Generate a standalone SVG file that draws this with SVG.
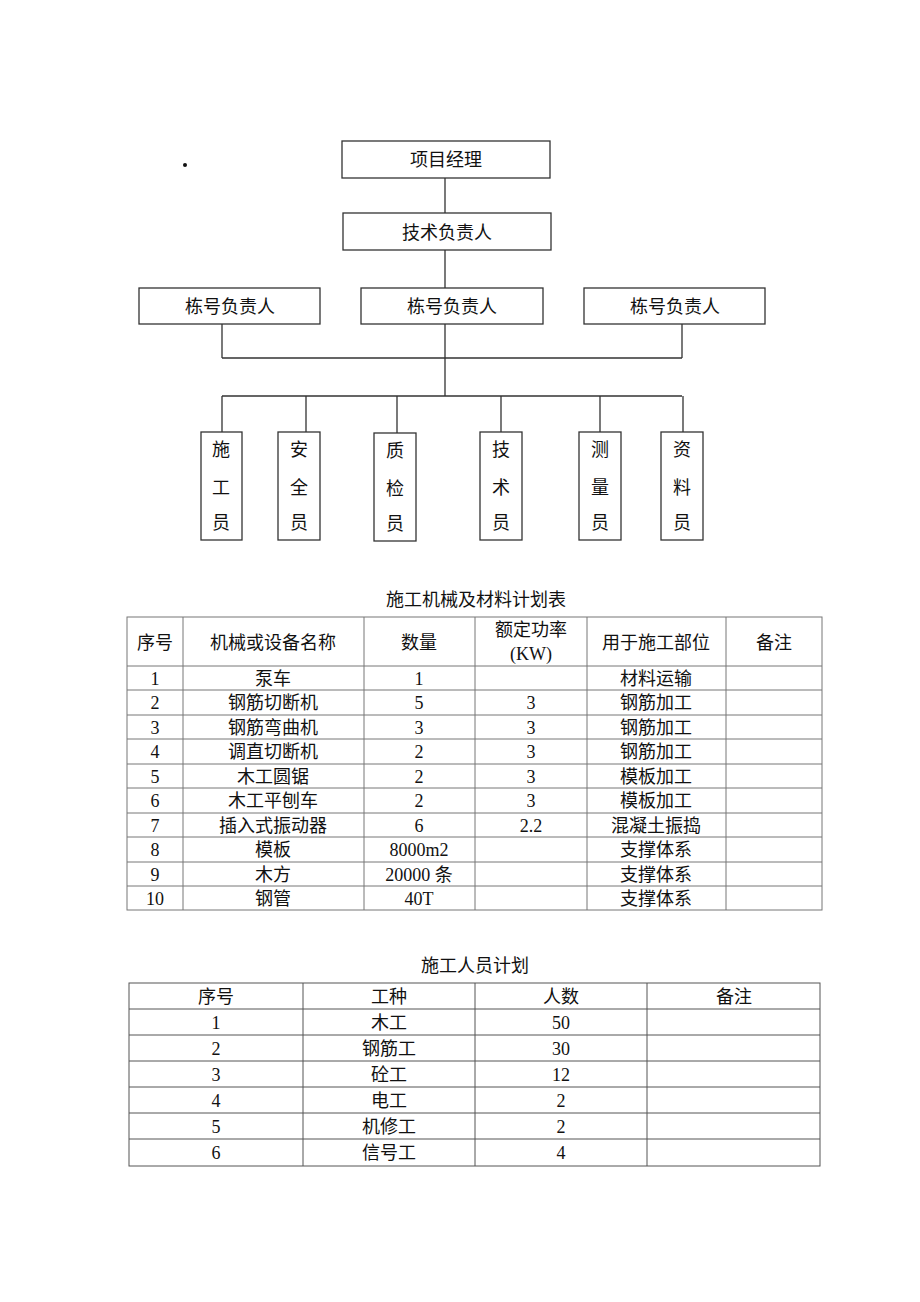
<svg xmlns="http://www.w3.org/2000/svg" width="920" height="1302" viewBox="0 0 920 1302">
<style>
text{font-family:"Liberation Serif","Noto Sans CJK SC",serif;font-size:18px;fill:#111;text-anchor:middle;dominant-baseline:central}
.box{fill:#fff;stroke:#333;stroke-width:1.3}
.con{fill:none;stroke:#333;stroke-width:1.3}
.t1{fill:none;stroke:#777;stroke-width:1}
.t2{fill:none;stroke:#555;stroke-width:1}
</style>
<rect x="0" y="0" width="920" height="1302" fill="#fff"/>
<circle cx="185" cy="165" r="2" fill="#111"/>
<g id="connectors">
<path class="con" d="M445 178V213M445 250V288M222 324V358M445 324V358M682 324V358M222 358H682M445 358V396M222 396H682M222 396V432M306 396V432M397 396V433M501 396V432M600 396V432M683 396V432"/>
</g>
<g id="n_pm"><rect class="box" x="342" y="141" width="208" height="37"/><text x="446" y="160">项目经理</text></g>
<g id="n_tech"><rect class="box" x="343" y="213" width="208" height="37"/><text x="447" y="233">技术负责人</text></g>
<g id="n_b1"><rect class="box" x="139" y="288" width="181" height="36"/><text x="230" y="307">栋号负责人</text></g>
<g id="n_b2"><rect class="box" x="361" y="288" width="182" height="36"/><text x="452" y="307">栋号负责人</text></g>
<g id="n_b3"><rect class="box" x="584" y="288" width="181" height="36"/><text x="675" y="307">栋号负责人</text></g>
<g id="n_sg"><rect class="box" x="201" y="432" width="41" height="108"/><text x="221" y="450">施</text><text x="221" y="488">工</text><text x="221" y="523">员</text></g>
<g id="n_aq"><rect class="box" x="278" y="432" width="42" height="108"/><text x="299" y="450">安</text><text x="299" y="488">全</text><text x="299" y="523">员</text></g>
<g id="n_zj"><rect class="box" x="374" y="433" width="42" height="108"/><text x="395" y="451">质</text><text x="395" y="489">检</text><text x="395" y="524">员</text></g>
<g id="n_js"><rect class="box" x="480" y="432" width="42" height="108"/><text x="501" y="450">技</text><text x="501" y="488">术</text><text x="501" y="523">员</text></g>
<g id="n_cl"><rect class="box" x="579" y="432" width="42" height="108"/><text x="600" y="450">测</text><text x="600" y="488">量</text><text x="600" y="523">员</text></g>
<g id="n_zl"><rect class="box" x="661" y="432" width="42" height="108"/><text x="682" y="450">资</text><text x="682" y="488">料</text><text x="682" y="523">员</text></g>

<g id="table1">
<text x="476" y="600">施工机械及材料计划表</text>
<rect class="t1" x="127" y="617" width="695" height="293"/>
<path class="t1" d="M183 617V910M364 617V910M475 617V910M587 617V910M726 617V910M127 666H822M127 690H822M127 715H822M127 739H822M127 764H822M127 788H822M127 813H822M127 837H822M127 862H822M127 886H822"/>
<g>
<text x="155" y="643">序号</text><text x="273" y="643">机械或设备名称</text><text x="419" y="643">数量</text><text x="531" y="630">额定功率</text><text x="531" y="654">(KW)</text><text x="656" y="643">用于施工部位</text><text x="774" y="643">备注</text>
</g>
<g>
<text x="155" y="679">1</text><text x="273" y="679">泵车</text><text x="419" y="679">1</text><text x="656" y="679">材料运输</text>
<text x="155" y="703">2</text><text x="273" y="703">钢筋切断机</text><text x="419" y="703">5</text><text x="531" y="703">3</text><text x="656" y="703">钢筋加工</text>
<text x="155" y="728">3</text><text x="273" y="728">钢筋弯曲机</text><text x="419" y="728">3</text><text x="531" y="728">3</text><text x="656" y="728">钢筋加工</text>
<text x="155" y="752">4</text><text x="273" y="752">调直切断机</text><text x="419" y="752">2</text><text x="531" y="752">3</text><text x="656" y="752">钢筋加工</text>
<text x="155" y="777">5</text><text x="273" y="777">木工圆锯</text><text x="419" y="777">2</text><text x="531" y="777">3</text><text x="656" y="777">模板加工</text>
<text x="155" y="801">6</text><text x="273" y="801">木工平刨车</text><text x="419" y="801">2</text><text x="531" y="801">3</text><text x="656" y="801">模板加工</text>
<text x="155" y="826">7</text><text x="273" y="826">插入式振动器</text><text x="419" y="826">6</text><text x="531" y="826">2.2</text><text x="656" y="826">混凝土振捣</text>
<text x="155" y="850">8</text><text x="273" y="850">模板</text><text x="419" y="850">8000m2</text><text x="656" y="850">支撑体系</text>
<text x="155" y="875">9</text><text x="273" y="875">木方</text><text x="419" y="875">20000 条</text><text x="656" y="875">支撑体系</text>
<text x="155" y="899">10</text><text x="273" y="899">钢管</text><text x="419" y="899">40T</text><text x="656" y="899">支撑体系</text>
</g>
</g>

<g id="table2">
<text x="475" y="966">施工人员计划</text>
<rect class="t2" x="129" y="983" width="691" height="183"/>
<path class="t2" d="M303 983V1166M475 983V1166M647 983V1166M129 1009H820M129 1035H820M129 1061H820M129 1087H820M129 1113H820M129 1139H820"/>
<text x="216" y="997">序号</text><text x="389" y="997">工种</text><text x="561" y="997">人数</text><text x="734" y="997">备注</text>
<text x="216" y="1023">1</text><text x="389" y="1023">木工</text><text x="561" y="1023">50</text>
<text x="216" y="1049">2</text><text x="389" y="1049">钢筋工</text><text x="561" y="1049">30</text>
<text x="216" y="1075">3</text><text x="389" y="1075">砼工</text><text x="561" y="1075">12</text>
<text x="216" y="1101">4</text><text x="389" y="1101">电工</text><text x="561" y="1101">2</text>
<text x="216" y="1127">5</text><text x="389" y="1127">机修工</text><text x="561" y="1127">2</text>
<text x="216" y="1153">6</text><text x="389" y="1153">信号工</text><text x="561" y="1153">4</text>
</g>
</svg>
